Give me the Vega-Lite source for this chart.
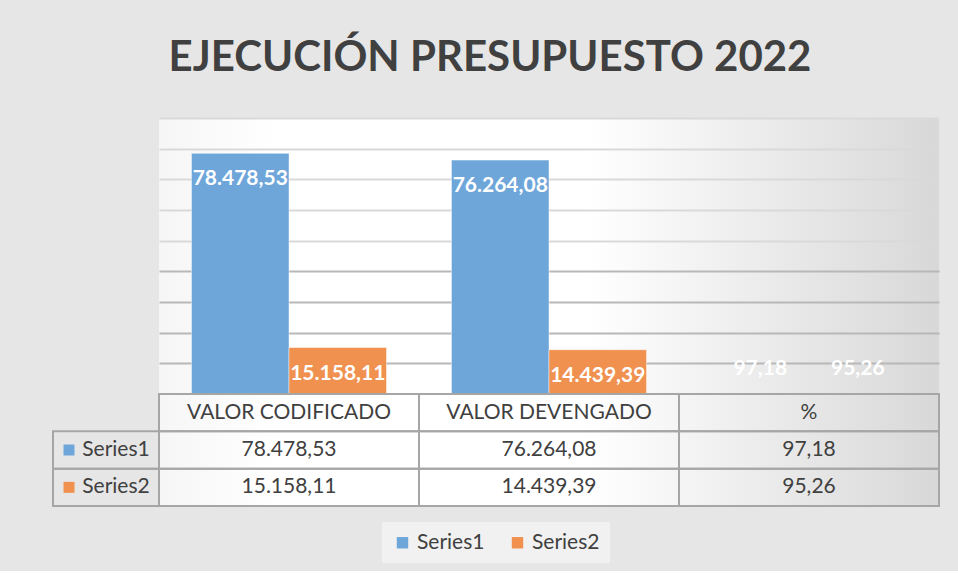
{
  "$schema": "https://vega.github.io/schema/vega-lite/v6.json",
  "background": "#e6e6e6",
  "padding": {"left": 52, "right": 20, "top": 37, "bottom": 8},
  "title": {"text": "EJECUCIÓN PRESUPUESTO 2022", "fontSize": 42, "font": "Lato", "fontWeight": "bold", "color": "#404040", "anchor": "middle", "offset": 38, "dx": -6},
  "datasets": {
    "budget": [
      {"cat": "VALOR CODIFICADO", "series": "Series1", "value": 78478.53},
      {"cat": "VALOR CODIFICADO", "series": "Series2", "value": 15158.11},
      {"cat": "VALOR DEVENGADO", "series": "Series1", "value": 76264.08},
      {"cat": "VALOR DEVENGADO", "series": "Series2", "value": 14439.39},
      {"cat": "%", "series": "Series1", "value": 97.18},
      {"cat": "%", "series": "Series2", "value": 95.26}
    ]
  },
  "data": {"name": "budget"},
  "columns": 2,
  "spacing": 0,
  "bounds": "flush",
  "concat": [
    {
      "width": 106, "height": 276,
      "view": {"stroke": null, "fill": null},
      "mark": {"type": "point", "opacity": 0},
      "encoding": {}
    },
    {
      "width": 780, "height": 276,
      "view": {"stroke": null, "fill": {"gradient": "linear", "x1": 0, "y1": 0, "x2": 1, "y2": 0, "stops": [{"offset": 0, "color": "#f6f6f6"}, {"offset": 0.15, "color": "#ffffff"}, {"offset": 0.55, "color": "#ffffff"}, {"offset": 1, "color": "#d8d8d8"}]}},
      "encoding": {
        "x": {"field": "cat", "type": "nominal", "sort": ["VALOR CODIFICADO", "VALOR DEVENGADO", "%"], "scale": {"paddingInner": 0, "paddingOuter": 0}, "axis": {"labels": false, "ticks": false, "title": null, "domainColor": "#595959", "domainWidth": 2.5, "grid": false}},
        "xOffset": {"field": "series", "type": "nominal", "scale": {"paddingInner": 0, "paddingOuter": 0.333}},
        "y": {"field": "value", "type": "quantitative", "scale": {"domain": [0, 90000], "nice": false}, "axis": {"values": [10000, 20000, 30000, 40000, 50000, 60000, 70000, 80000, 90000], "labels": false, "ticks": false, "domain": false, "title": null, "grid": true, "gridWidth": 2, "gridColor": {"condition": {"test": "datum.value >= 50000", "value": "#d9d9d9"}, "value": "#b8b8b8"}}}
      },
      "layer": [
        {
          "mark": {"type": "bar", "stroke": "#ffffff", "strokeOpacity": 0.45, "strokeWidth": 1},
          "encoding": {
            "color": {"field": "series", "type": "nominal", "scale": {"domain": ["Series1", "Series2"], "range": ["#6ea6da", "#f0914f"]},
              "legend": {"orient": "bottom", "title": null, "direction": "horizontal", "symbolType": "square", "symbolSize": 130, "symbolStrokeWidth": 0, "symbolOpacity": 1, "labelFont": "Lato", "labelFontSize": 21, "labelColor": "#404040", "columnPadding": 22, "padding": 10, "fillColor": "rgba(255,255,255,0.45)", "offset": 15, "labelOffset": 4}}
          }
        },
        {
          "transform": [{"filter": "datum.cat !== '%'"}],
          "mark": {"type": "text", "dy": 26, "color": "#ffffff", "font": "Lato", "fontWeight": "bold", "fontSize": 21, "baseline": "middle"},
          "encoding": {"text": {"field": "value", "type": "quantitative", "format": ",.2f"}}
        },
        {
          "transform": [{"filter": "datum.cat === '%'"}],
          "mark": {"type": "text", "dy": -25, "color": "#ffffff", "font": "Lato", "fontWeight": "bold", "fontSize": 21, "baseline": "middle"},
          "encoding": {"text": {"field": "value", "type": "quantitative", "format": ",.2f"}}
        }
      ]
    },
    {
      "width": 106, "height": 112,
      "view": {"stroke": null, "fill": null},
      "transform": [{"filter": "datum.cat === 'VALOR CODIFICADO'"}],
      "encoding": {
        "y": {"field": "series", "type": "nominal", "scale": {"domain": ["header", "Series1", "Series2"], "paddingInner": 0, "paddingOuter": 0}, "axis": null}
      },
      "layer": [
        {"mark": {"type": "rect", "fill": "transparent", "stroke": "#a6a6a6", "strokeWidth": 2}},
        {"mark": {"type": "square", "size": 121, "xOffset": -37, "opacity": 1},
         "encoding": {"color": {"field": "series", "type": "nominal", "legend": null}}},
        {"mark": {"type": "text", "dx": 10, "font": "Lato", "fontSize": 21, "color": "#404040", "baseline": "middle"},
         "encoding": {"text": {"field": "series"}}}
      ]
    },
    {
      "width": 780, "height": 112,
      "view": {"stroke": null, "fill": {"gradient": "linear", "x1": 0, "y1": 0, "x2": 1, "y2": 0, "stops": [{"offset": 0, "color": "#f6f6f6"}, {"offset": 0.15, "color": "#ffffff"}, {"offset": 0.55, "color": "#ffffff"}, {"offset": 1, "color": "#d8d8d8"}]}},
      "encoding": {
        "x": {"field": "cat", "type": "nominal", "sort": ["VALOR CODIFICADO", "VALOR DEVENGADO", "%"], "scale": {"paddingInner": 0, "paddingOuter": 0}, "axis": null}
      },
      "layer": [
        {"mark": {"type": "rect", "fill": "transparent", "stroke": "#a6a6a6", "strokeWidth": 2},
         "encoding": {"y": {"field": "series", "type": "nominal", "scale": {"domain": ["header", "Series1", "Series2"], "paddingInner": 0, "paddingOuter": 0}, "axis": null}}},
        {"transform": [{"filter": "datum.series === 'Series1'"}],
         "mark": {"type": "rect", "fill": "transparent", "stroke": "#a6a6a6", "strokeWidth": 2},
         "encoding": {"y": {"datum": "header", "type": "nominal"}}},
        {"mark": {"type": "text", "font": "Lato", "fontSize": 21, "color": "#404040", "baseline": "middle"},
         "encoding": {"y": {"field": "series", "type": "nominal"}, "text": {"field": "value", "type": "quantitative", "format": ",.2f"}}},
        {"transform": [{"filter": "datum.series === 'Series1'"}],
         "mark": {"type": "text", "font": "Lato", "fontSize": 21, "color": "#404040", "baseline": "middle"},
         "encoding": {"y": {"datum": "header", "type": "nominal"}, "text": {"field": "cat"}}}
      ]
    }
  ],
  "config": {
    "locale": {"number": {"decimal": ",", "thousands": ".", "grouping": [3], "currency": ["$", ""]}},
    "font": "Lato",
    "view": {"stroke": null},
    "legend": {"layout": {"bottom": {"anchor": "middle"}}}
  }
}
